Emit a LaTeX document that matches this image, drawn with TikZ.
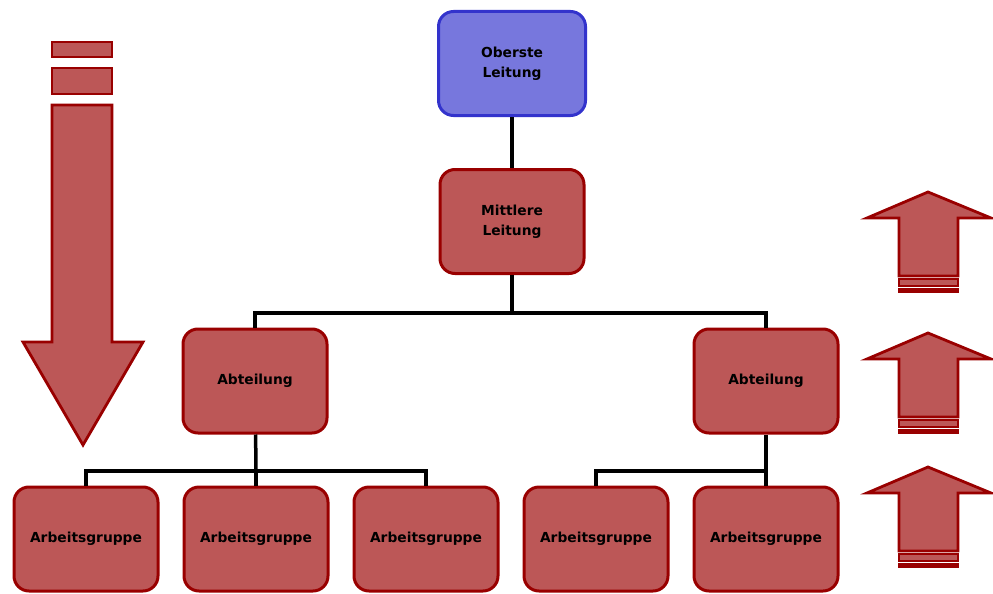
\documentclass[tikz,border=0pt]{standalone}
\usepackage{fontspec}
\setmainfont{DejaVu Sans}
\begin{document}
\definecolor{redfill}{RGB}{188,87,87}
\definecolor{redline}{RGB}{153,0,0}
\definecolor{bluefill}{RGB}{119,119,221}
\definecolor{blueline}{RGB}{51,51,204}
\begin{tikzpicture}[x=1pt,y=-1pt,
  box/.style={rectangle, rounded corners=15pt, line width=3pt, draw=redline, fill=redfill,
    minimum width=144pt, minimum height=104pt, inner sep=0pt, align=center,
    font=\fontsize{13.8}{19.5}\selectfont\bfseries},
  topbox/.style={box, draw=blueline, fill=bluefill, minimum width=147pt},
  link/.style={line width=3.5pt, black},
  bigarrow/.style={line width=2.8pt, draw=redline, fill=redfill, line join=miter}]
\useasboundingbox (0,0) rectangle (993,594);

% organisation boxes
\node[topbox] (top) at (512,63.5) {Oberste\\Leitung};
\node[box] (mid) at (512,221.5) {Mittlere\\Leitung};
\node[box] (abtL) at (255,381) {Abteilung};
\node[box] (abtR) at (766,381) {Abteilung};
\node[box] (ag1) at (86,539) {Arbeitsgruppe};
\node[box] (ag2) at (256,539) {Arbeitsgruppe};
\node[box] (ag3) at (426,539) {Arbeitsgruppe};
\node[box] (ag4) at (596,539) {Arbeitsgruppe};
\node[box] (ag5) at (766,539) {Arbeitsgruppe};

% junction points of the tree
\coordinate (j1) at (512,313);
\coordinate (j2) at (256,471);
\coordinate (j3) at (766,471);

% connectors
\draw[link] (top) -- (mid);
\draw[link] (mid) -- (j1);
\draw[link] (abtL.north) |- (j1) -| (abtR.north);
\draw[link] (abtL) -- (j2);
\draw[link] (ag1.north) |- (j2) -| (ag3.north);
\draw[link] (ag2.north) -- (ag2.north |- j2);
\draw[link] (abtR) -- (j3);
\draw[link] (ag4.north) |- (j3) -- (ag5.north);

% top-down arrow on the left
\draw[bigarrow] (52,42) rectangle (112,57);
\draw[bigarrow] (52,68) rectangle (112,94);
\draw[bigarrow] (52,105) -- (112,105) -- (112,342) -- (143,342) -- (83,445)
  -- (23,342) -- (52,342) -- cycle;

% bottom-up arrows on the right
\foreach \t in {192,333,467} {
  \draw[bigarrow] (928,\t) -- (991,\t+26) -- (958,\t+26) -- (958,\t+84)
    -- (899,\t+84) -- (899,\t+26) -- (867,\t+26) -- cycle;
  \draw[bigarrow, line width=1.8pt] (899,\t+87) rectangle (958,\t+94);
  \draw[bigarrow, line width=2.6pt] (899,\t+97.5) rectangle (958,\t+100);
}
\end{tikzpicture}
\end{document}
